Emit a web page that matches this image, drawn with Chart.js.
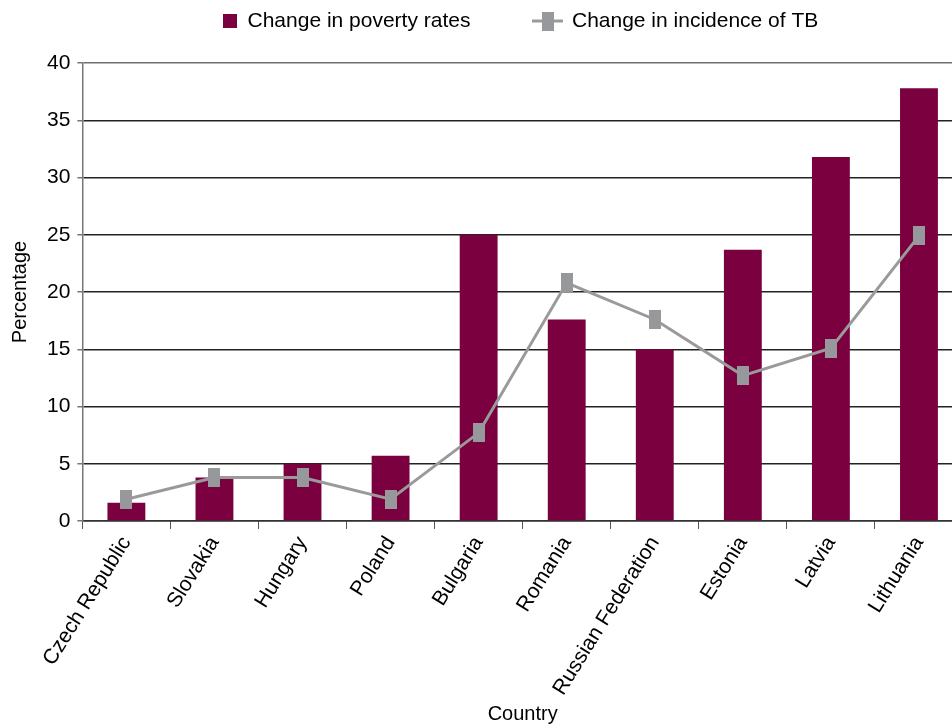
<!DOCTYPE html>
<html>
<head>
<meta charset="utf-8">
<script src="https://cdn.jsdelivr.net/npm/chart.js@4.4.1/dist/chart.umd.min.js"></script>
<style>
  html, body { margin: 0; padding: 0; background: #fff; overflow: hidden; }
  #wrap { width: 970px; height: 726px; position: relative; }
</style>
</head>
<body>
<div id="wrap"><canvas id="ctx_pobreza"></canvas></div>
<script>
const countries = ['Czech Republic', 'Slovakia', 'Hungary', 'Poland', 'Bulgaria', 'Romania',
    'Russian Federation', 'Estonia', 'Latvia', 'Lithuania']
const poverty_data = [1.6, 3.8, 5.0, 5.7, 25.0, 17.6, 15.0, 23.7, 31.8, 37.8]
const tb_data = [1.9, 3.8, 3.8, 1.9, 7.7, 20.8, 17.6, 12.7, 15.1, 24.9]
const y_ticks = [0, 5, 10, 15, 20, 25, 30, 35, 40]

const MAROON = '#7b003f'
const GREY = '#97989b'
const FONT = "'Liberation Sans', Arial, sans-serif"
const LEG_GAP = 77

// marcador retangular (mais alto que largo)
const marker = document.createElement('canvas')
marker.width = 12; marker.height = 19
let mctx = marker.getContext('2d')
mctx.fillStyle = GREY
mctx.fillRect(0, 0, 12, 19)

// simbolo da legenda: linha + marcador (lado direito transparente)
const legLine = document.createElement('canvas')
legLine.width = 45; legLine.height = 19
mctx = legLine.getContext('2d')
mctx.fillStyle = '#9a9a9a'
mctx.fillRect(0, 8, 31, 3)
mctx.fillStyle = GREY
mctx.fillRect(10, 0, 12, 19)

const legBox = document.createElement('canvas')
legBox.width = 14; legBox.height = 14
mctx = legBox.getContext('2d')
mctx.fillStyle = MAROON
mctx.fillRect(0, 0, 14, 14)

// posiciona a legenda no topo, como no original
const placeLegend = {
    id: 'placeLegend',
    beforeDraw(chart) {
        const lg = chart.legend
        lg.top = 21 - 10.5 - LEG_GAP
        lg.bottom = 60
        lg.left = 223 - LEG_GAP
        lg.right = 970
    }
}

new Chart(document.getElementById('ctx_pobreza').getContext('2d'), {
    type: 'bar',
    data: {
        labels: countries,
        datasets: [
            {
                type: 'line',
                label: 'Change in incidence of TB',
                data: tb_data,
                borderColor: '#9a9a9a',
                borderWidth: 3,
                pointStyle: marker,
                backgroundColor: GREY,
                tension: 0,
                order: 0
            },
            {
                label: 'Change in poverty rates',
                data: poverty_data,
                backgroundColor: MAROON,
                barPercentage: 0.43,
                categoryPercentage: 1,
                order: 1
            }
        ]
    },
    plugins: [placeLegend],
    options: {
        responsive: true,
        maintainAspectRatio: false,
        animation: false,
        layout: { padding: { top: 0, left: 8, right: 0, bottom: 0 } },
        plugins: {
            legend: {
                position: 'top',
                align: 'start',
                reverse: true,
                maxHeight: 63,
                labels: {
                    font: { family: FONT, size: 21 },
                    color: '#000',
                    usePointStyle: true,
                    boxWidth: 14,
                    boxHeight: 19,
                    padding: LEG_GAP,
                    generateLabels(chart) {
                        const items = Chart.defaults.plugins.legend.labels.generateLabels(chart)
                        items.forEach(it => {
                            it.pointStyle = it.datasetIndex === 0 ? legLine : legBox
                        })
                        return items
                    }
                }
            },
            tooltip: { enabled: false }
        },
        scales: {
            x: {
                offset: true,
                afterFit(axis) {
                    axis.height = 205
                },
                grid: {
                    offset: true,
                    drawOnChartArea: false,
                    drawTicks: true,
                    tickLength: 8,
                    color: '#555'
                },
                border: { color: '#333', width: 1.5 },
                ticks: {
                    font: { family: FONT, size: 21 },
                    color: '#000',
                    maxRotation: 58,
                    minRotation: 58,
                    autoSkip: false
                },
                title: {
                    display: true,
                    text: 'Country',
                    font: { family: FONT, size: 20 },
                    color: '#000',
                    padding: { top: 0, bottom: 0 }
                }
            },
            y: {
                min: 0,
                max: 40,
                afterBuildTicks(axis) {
                    axis.ticks = y_ticks.map(v => ({ value: v }))
                },
                grid: {
                    color: c => (c.tick && c.tick.value === 40) ? '#707070' : '#222',
                    lineWidth: 1.5,
                    tickLength: 5,
                    tickColor: '#777'
                },
                border: { color: '#777', width: 1.5 },
                ticks: {
                    font: { family: FONT, size: 21 },
                    color: '#000',
                    padding: 7
                },
                title: {
                    display: true,
                    text: 'Percentage',
                    font: { family: FONT, size: 20 },
                    color: '#000',
                    padding: { top: 0, bottom: 8 }
                }
            }
        }
    }
})
</script>
</body>
</html>
